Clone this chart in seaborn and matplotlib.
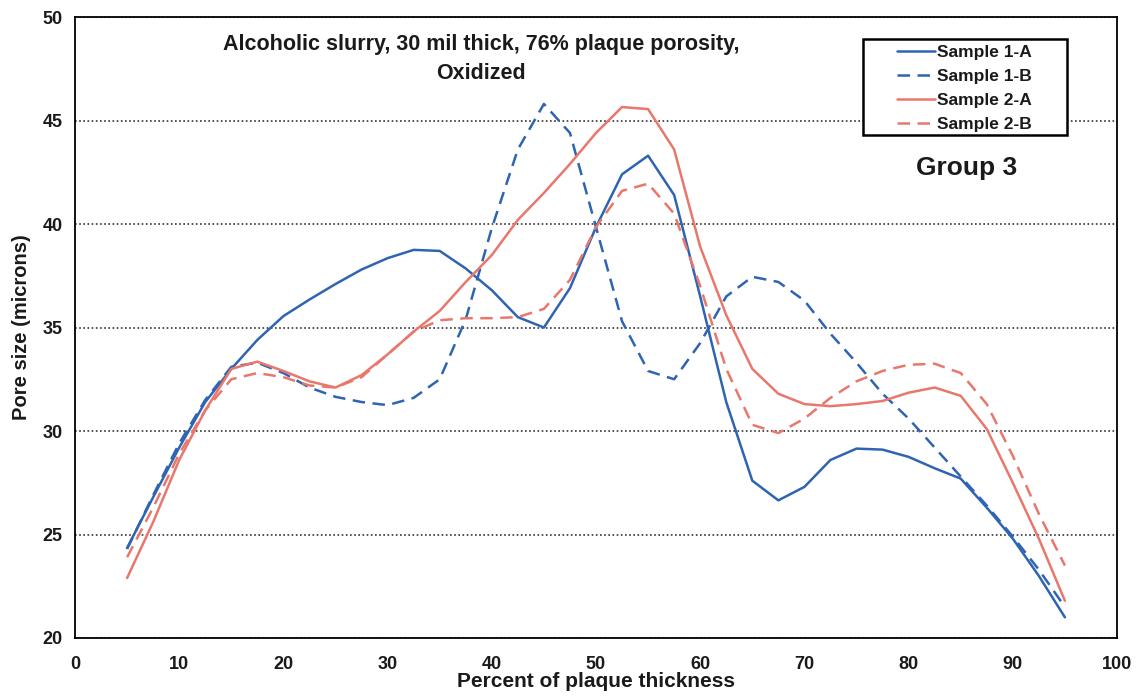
import matplotlib
matplotlib.use("Agg")
import matplotlib.pyplot as plt
from matplotlib.patches import Rectangle
import numpy as np
import pandas as pd
import seaborn as sns

# ---- data ----
x_pct = [5, 7.5, 10, 12.5, 15, 17.5, 20, 22.5, 25, 27.5, 30, 32.5, 35, 37.5, 40, 42.5,
         45, 47.5, 50, 52.5, 55, 57.5, 60, 62.5, 65, 67.5, 70, 72.5, 75, 77.5, 80, 82.5,
         85, 87.5, 90, 92.5, 95]

sample_1a = [24.35, 26.8, 29.2, 31.4, 33.0, 34.4, 35.55, 36.35, 37.1, 37.8, 38.35, 38.75,
             38.7, 37.85, 36.8, 35.5, 35.0, 36.9, 39.85, 42.4, 43.3, 41.4, 36.5, 31.4,
             27.6, 26.65, 27.3, 28.6, 29.15, 29.1, 28.75, 28.2, 27.7, 26.3, 24.8, 23.0, 21.0]

sample_1b = [24.3, 26.9, 29.4, 31.5, 33.1, 33.3, 32.8, 32.1, 31.65, 31.4, 31.25, 31.6,
             32.5, 35.4, 39.8, 43.6, 45.8, 44.4, 39.85, 35.3, 32.9, 32.5, 34.25, 36.5,
             37.45, 37.2, 36.3, 34.7, 33.3, 31.8, 30.6, 29.2, 27.8, 26.4, 24.9, 23.3, 21.5]

sample_2a = [22.9, 25.6, 28.6, 31.0, 33.0, 33.35, 32.9, 32.4, 32.1, 32.7, 33.7, 34.8,
             35.8, 37.2, 38.5, 40.2, 41.5, 42.9, 44.4, 45.65, 45.55, 43.6, 38.9, 35.6,
             33.0, 31.8, 31.3, 31.2, 31.3, 31.45, 31.85, 32.1, 31.7, 30.1, 27.5, 24.8, 21.8]

sample_2b = [23.9, 26.3, 28.9, 31.0, 32.5, 32.8, 32.6, 32.2, 32.1, 32.6, 33.7, 34.8,
             35.35, 35.45, 35.45, 35.5, 35.9, 37.3, 39.85, 41.6, 41.95, 40.5, 37.0, 33.0,
             30.3, 29.9, 30.6, 31.6, 32.4, 32.9, 33.2, 33.25, 32.8, 31.3, 28.8, 26.0, 23.5]

series_names = ["Sample 1-A", "Sample 1-B", "Sample 2-A", "Sample 2-B"]
x_ticks = [0, 10, 20, 30, 40, 50, 60, 70, 80, 90, 100]
y_ticks = [20, 25, 30, 35, 40, 45, 50]

# ---- build long-form table ----
frames = []
for name, vals in zip(series_names, [sample_1a, sample_1b, sample_2a, sample_2b]):
    frames.append(pd.DataFrame({"x": x_pct, "y": vals, "sample": name}))
df = pd.concat(frames, ignore_index=True)

sns.set_style("white")
plt.rcParams["font.family"] = ["Liberation Sans", "DejaVu Sans"]
plt.rcParams["font.weight"] = "bold"
plt.rcParams["lines.solid_joinstyle"] = "round"
plt.rcParams["lines.dash_joinstyle"] = "round"

BLUE = "#2f64b2"
RED = "#e8776c"
palette = {"Sample 1-A": BLUE, "Sample 1-B": BLUE, "Sample 2-A": RED, "Sample 2-B": RED}
dashes = {"Sample 1-A": "", "Sample 1-B": (5, 3), "Sample 2-A": "", "Sample 2-B": (5, 3)}

fig = plt.figure(figsize=(11.41, 6.97), dpi=100)
ax = fig.add_axes([75 / 1141, 1 - 638 / 697, (1117 - 75) / 1141, (638 - 17) / 697])

sns.lineplot(data=df, x="x", y="y", hue="sample", style="sample", palette=palette,
             dashes=dashes, estimator=None, sort=False, linewidth=1.8, ax=ax)

ax.set_xlim(0, 100)
ax.set_ylim(20, 50)
ax.set_xticks(x_ticks)
ax.set_yticks(y_ticks)
ax.tick_params(axis="both", direction="out", length=5, width=1.2, labelsize=13,
               color="black")
ax.tick_params(axis="x", pad=8)
ax.tick_params(axis="y", pad=4)
for lab in ax.get_xticklabels() + ax.get_yticklabels():
    lab.set_fontweight("bold")
    lab.set_color("#1a1a1a")

ax.yaxis.grid(True, linestyle=(0, (1, 1.5)), color="#333333", linewidth=1.2)
ax.xaxis.grid(False)
for sp in ax.spines.values():
    sp.set_color("black")
    sp.set_linewidth(1.3)

ax.set_xlabel("Percent of plaque thickness", fontsize=15, fontweight="bold", labelpad=-1,
              color="#1a1a1a")
ax.set_ylabel("Pore size (microns)", fontsize=14.5, fontweight="bold", labelpad=8,
              color="#1a1a1a")

ax.text(0.39, 0.972, "Alcoholic slurry, 30 mil thick, 76% plaque porosity,\nOxidized",
        transform=ax.transAxes, ha="center", va="top", fontsize=15.5, fontweight="bold",
        color="#1a1a1a", linespacing=1.45)
ax.text(0.856, 0.757, "Group 3", transform=ax.transAxes, ha="center", va="center",
        fontsize=19, fontweight="bold", color="#1a1a1a")

# legend box drawn as a frame, legend entries inside
leg = ax.legend(loc="upper left", bbox_to_anchor=(0.789, 0.955), frameon=False,
                fontsize=12.5, handlelength=2.2, handletextpad=0.12, labelspacing=0.5,
                borderpad=0, borderaxespad=0)
for t in leg.get_texts():
    t.set_fontweight("bold")
    t.set_color("#1a1a1a")
x0 = (863 - 75) / 1042
x1 = (1067 - 75) / 1042
y0 = (638 - 135) / 621
y1 = (638 - 38.5) / 621
ax.add_patch(Rectangle((x0, y0), x1 - x0, y1 - y0, transform=ax.transAxes,
                       facecolor="white", edgecolor="black", linewidth=1.8, zorder=4))
leg.set_zorder(5)

fig.savefig("out.png", dpi=100)
